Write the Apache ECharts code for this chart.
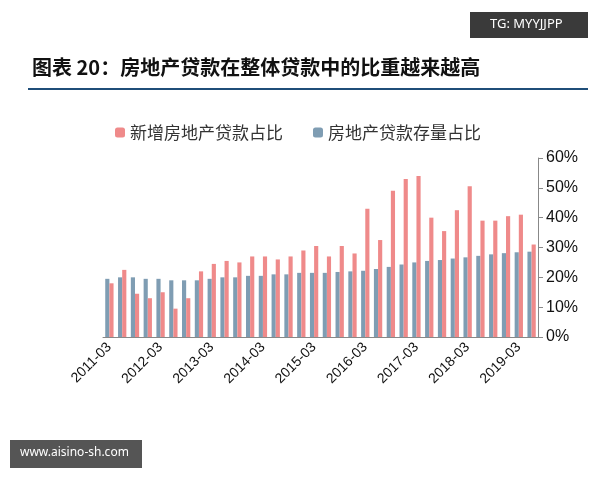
<!DOCTYPE html><html><head><meta charset="utf-8"><script src="https://cdn.jsdelivr.net/npm/echarts@6/dist/echarts.min.js"></script></head><body style="margin:0"><div id="c" style="width:600px;height:480px"></div><script>
const quarters=['03','06','09','12'];
const categories=[];for(let y=2011;y<=2019;y++)for(const q of quarters){if(categories.length<34)categories.push(y+'-'+q);}
const newShare=[18,22.5,14.5,13,15,9.5,13,22,24.5,25.5,25,27,27,26,27,29,30.5,27,30.5,28,43,32.5,49,53,54,40,35.5,42.5,50.5,39,39,40.5,41,31];
const stockShare=[19.5,20,20,19.5,19.5,19,19,19,19.5,20,20,20.5,20.5,21,21,21.5,21.5,21.5,21.8,22,22.2,22.8,23.5,24.3,25,25.5,25.8,26.3,26.7,27.2,27.7,28.1,28.4,28.6];
const c=echarts.init(document.getElementById('c'));
c.setOption({animation:false,
graphic:[
{type:'rect',shape:{x:470,y:12,width:118,height:26},style:{fill:'#3a3a3a'}},
{type:'text',left:490,top:18,style:{text:'TG: MYYJJPP',fill:'#fff',font:'13px "Noto Sans"'}},
{type:'text',left:32,top:57,style:{text:'图表 20：房地产贷款在整体贷款中的比重越来越高',fill:'#111',font:'bold 20px "Noto Sans CJK SC"'}},
{type:'rect',shape:{x:28,y:88,width:560,height:2},style:{fill:'#1f4e79'}},
{type:'rect',shape:{x:10,y:440,width:132,height:28},style:{fill:'#555'}},
{type:'text',left:20,top:447,style:{text:'www.aisino-sh.com',fill:'#fff',font:'12px "Noto Sans"'}}
],
legend:{data:['新增房地产贷款占比','房地产贷款存量占比'],top:119,left:110,itemWidth:10,itemHeight:10,itemGap:30,textStyle:{fontSize:17,color:'#333',fontFamily:'Noto Sans CJK SC'}},
grid:{left:103,right:62,top:158,bottom:143},
xAxis:{type:'category',data:categories,axisTick:{interval:0},axisLine:{lineStyle:{color:'#888'}},axisLabel:{interval:3,rotate:45,fontSize:14,color:'#111'}},
yAxis:{type:'value',position:'right',min:0,max:60,interval:10,splitLine:{show:false},axisLine:{show:true,lineStyle:{color:'#888'}},axisTick:{show:true},axisLabel:{formatter:'{value}%',fontSize:16,color:'#111'}},
series:[
{name:'房地产贷款存量占比',type:'bar',data:stockShare,itemStyle:{color:'#7f9db3'},barGap:'0%',barCategoryGap:'35%'},
{name:'新增房地产贷款占比',type:'bar',data:newShare,itemStyle:{color:'#ef8a8a'}}
]});
</script></body></html>
